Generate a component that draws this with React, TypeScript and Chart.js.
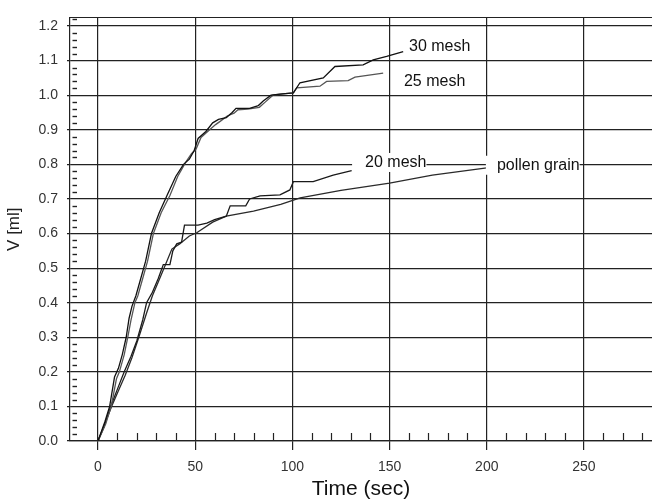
import React, { useEffect, useRef } from "react";
import { Chart, registerables } from "chart.js";

Chart.register(...registerables);

const FONT = '"Liberation Sans", Arial, sans-serif';

// Tick labels
const xTicks = [0, 50, 100, 150, 200, 250];
const yTicks = [0, 0.1, 0.2, 0.3, 0.4, 0.5, 0.6, 0.7, 0.8, 0.9, 1.0, 1.1, 1.2];

// Series names
const seriesNames = ["30 mesh", "25 mesh", "20 mesh", "pollen grain"];

// 30 mesh
const mesh30T = [0, 3.5, 6, 8.5, 10.5, 12.5, 14.5, 16, 17.5, 19.5, 22, 24.5, 27.5, 31.5, 35.5, 40, 44, 47, 49.5, 51.5, 55.5, 59, 62, 66, 69, 71, 78, 82.5, 85, 89, 93.6, 100.5, 103.9, 115.9, 121.9, 136.4, 141.6, 148.5, 157];
const mesh30V = [0, 0.055, 0.1, 0.185, 0.21, 0.25, 0.3, 0.355, 0.39, 0.42, 0.47, 0.52, 0.6, 0.66, 0.71, 0.765, 0.8, 0.815, 0.84, 0.875, 0.895, 0.92, 0.93, 0.935, 0.95, 0.962, 0.962, 0.97, 0.983, 1.0, 1.003, 1.007, 1.036, 1.05, 1.083, 1.088, 1.102, 1.112, 1.126];

// 25 mesh
const mesh25T = [0, 4, 6.8, 9.5, 11, 13.5, 15.3, 17, 19, 20.5, 23, 25.5, 28.5, 32.5, 37, 41, 45, 48, 50.5, 53, 57, 60.5, 63, 66.5, 70, 72, 77, 83, 86, 90, 95, 100.5, 102.2, 114.2, 117.6, 128.7, 132.2, 146.7];
const mesh25V = [0, 0.05, 0.1, 0.18, 0.2, 0.25, 0.3, 0.35, 0.4, 0.42, 0.47, 0.52, 0.6, 0.66, 0.71, 0.765, 0.805, 0.83, 0.845, 0.878, 0.898, 0.915, 0.925, 0.94, 0.948, 0.958, 0.96, 0.965, 0.98, 1.0, 1.004, 1.007, 1.021, 1.026, 1.04, 1.042, 1.052, 1.064];

// 20 mesh
const mesh20T = [0, 3, 6.5, 10, 13.5, 17, 20, 23, 25, 28, 31, 33.6, 37, 38.5, 40.5, 43, 44.5, 51.5, 56, 60, 66, 68, 76, 78, 83.4, 93.6, 98.7, 100.5, 110.7, 121, 130.5];
const mesh20V = [0, 0.04, 0.1, 0.15, 0.2, 0.245, 0.29, 0.35, 0.4, 0.43, 0.47, 0.51, 0.51, 0.55, 0.57, 0.575, 0.624, 0.624, 0.63, 0.64, 0.65, 0.68, 0.68, 0.7, 0.709, 0.712, 0.726, 0.75, 0.75, 0.769, 0.782];

// pollen grain
const pollenT = [0, 3.5, 7, 10.5, 14, 17.4, 21, 25, 28, 31, 34, 38, 42, 47, 51, 59, 66, 80, 94, 104, 125, 150, 172, 200];
const pollenV = [0, 0.05, 0.1, 0.145, 0.19, 0.24, 0.3, 0.37, 0.42, 0.46, 0.5, 0.555, 0.57, 0.593, 0.603, 0.633, 0.65, 0.665, 0.684, 0.703, 0.725, 0.746, 0.769, 0.79];

// Curve labels (annotation anchors, data coordinates)
const labelT = [160, 157.4, 137.4, 205.2];
const labelV = [1.14, 1.038, 0.804, 0.796];
const labelPadLeft = [3, 3, 13, 11];

const seriesColors = ["#111111", "#555555", "#1a1a1a", "#2a2a2a"];

const toPoints = (t: number[], v: number[]) => t.map((x, i) => ({ x, y: v[i] }));

const decorPlugin = {
  id: "decor",
  beforeDatasetsDraw(chart: any) {
    const { ctx, chartArea, scales } = chart;
    const { left, top, right, bottom } = chartArea;
    const x = scales.x;
    const y = scales.y;
    ctx.save();
    ctx.strokeStyle = "#222";
    ctx.lineWidth = 1.2;
    // top frame line
    ctx.beginPath();
    ctx.moveTo(left, Math.round(top) + 0.5);
    ctx.lineTo(right, Math.round(top) + 0.5);
    ctx.stroke();
    // y minor ticks (inside, detached)
    ctx.lineWidth = 1.4;
    for (let i = 1; i <= 61; i++) {
      if (i % 5 === 0) continue;
      const py = Math.round(y.getPixelForValue(i * 0.02)) + 0.5;
      if (py < top) continue;
      ctx.beginPath();
      ctx.moveTo(left + 2.5, py);
      ctx.lineTo(left + 7, py);
      ctx.stroke();
    }
    // x minor ticks (upward from axis)
    ctx.lineWidth = 1.2;
    for (let i = 1; i <= 28; i++) {
      if (i % 5 === 0) continue;
      const px = Math.round(x.getPixelForValue(i * 10)) + 0.5;
      ctx.beginPath();
      ctx.moveTo(px, bottom);
      ctx.lineTo(px, bottom - 8);
      ctx.stroke();
    }
    ctx.restore();
  },
  afterDatasetsDraw(chart: any) {
    const { ctx, scales } = chart;
    const x = scales.x;
    const y = scales.y;
    ctx.save();
    ctx.font = `16px ${FONT}`;
    ctx.textBaseline = "middle";
    ctx.textAlign = "left";
    seriesNames.forEach((name, i) => {
      const px = x.getPixelForValue(labelT[i]);
      const py = y.getPixelForValue(labelV[i]);
      const w = ctx.measureText(name).width;
      ctx.fillStyle = "#ffffff";
      ctx.fillRect(px - labelPadLeft[i], py - 10, w + labelPadLeft[i], 19);
      ctx.fillStyle = "#111111";
      ctx.fillText(name, px, py);
    });
    ctx.restore();
  },
};

export default function App() {
  const ref = useRef<HTMLCanvasElement | null>(null);

  useEffect(() => {
    if (!ref.current) return;
    const series = [
      toPoints(mesh30T, mesh30V),
      toPoints(mesh25T, mesh25V),
      toPoints(mesh20T, mesh20V),
      toPoints(pollenT, pollenV),
    ];
    const chart = new Chart(ref.current, {
      type: "line",
      data: {
        datasets: series.map((data, i) => ({
          label: seriesNames[i],
          data,
          borderColor: seriesColors[i],
          borderWidth: 1.3,
          pointRadius: 0,
          fill: false,
          tension: 0,
        })),
      },
      options: {
        animation: false,
        responsive: false,
        layout: { padding: { top: 12, right: 0, left: 0, bottom: 0 } },
        plugins: { legend: { display: false }, tooltip: { enabled: false } },
        scales: {
          x: {
            type: "linear",
            min: -14.4,
            max: 285,
            afterBuildTicks: (s: any) => {
              s.ticks = xTicks.map((v) => ({ value: v }));
            },
            afterFit: (s: any) => {
              s.height = 61;
            },
            grid: { color: "#222", lineWidth: 1.2, drawTicks: true, tickLength: 9, tickColor: "#222" },
            border: { display: true, color: "#222", width: 1.2 },
            ticks: { color: "#333", font: { family: FONT, size: 14 }, padding: 9, maxRotation: 0, autoSkip: false },
            title: {
              display: true,
              text: "Time (sec)",
              color: "#111",
              font: { family: FONT, size: 21 },
              padding: { top: 0, bottom: 0 },
            },
          },
          y: {
            type: "linear",
            min: 0,
            max: 1.225,
            afterBuildTicks: (s: any) => {
              s.ticks = yTicks.map((v) => ({ value: v }));
            },
            afterFit: (s: any) => {
              s.width = 70;
            },
            grid: { color: "#222", lineWidth: 1.2, drawTicks: true, tickLength: 3, tickColor: "#222" },
            border: { display: true, color: "#222", width: 1.2 },
            ticks: {
              color: "#333",
              font: { family: FONT, size: 14 },
              padding: 9,
              callback: (v: any) => Number(v).toFixed(1),
            },
            title: {
              display: true,
              text: "V [ml]",
              color: "#222",
              font: { family: FONT, size: 17 },
              padding: { top: 4, bottom: 0 },
            },
          },
        },
      },
      plugins: [decorPlugin],
    } as any);
    return () => chart.destroy();
  }, []);

  return (
    <div style={{ position: "absolute", left: 0, top: 0, width: 652, height: 502, background: "#fff" }}>
      <canvas ref={ref} width={652} height={502} style={{ display: "block", width: 652, height: 502 }} />
    </div>
  );
}
